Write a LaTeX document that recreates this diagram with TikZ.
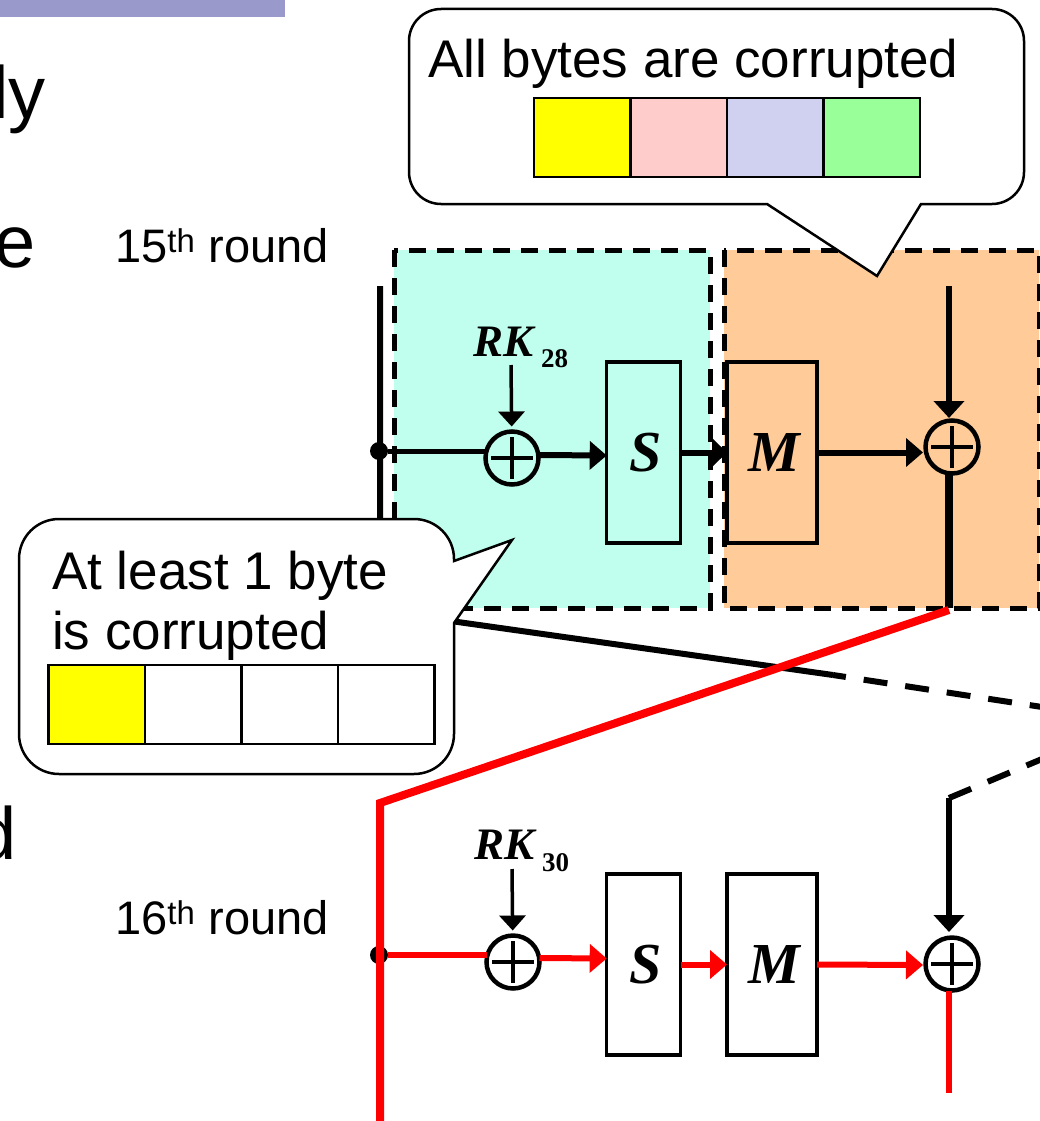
\documentclass[tikz,border=0pt]{standalone}
\usepackage{fontspec}
\setmainfont{Liberation Sans}
\newfontfamily\keyfont{Liberation Serif}
\usetikzlibrary{positioning,arrows.meta}
\definecolor{barblue}{HTML}{9999CC}
\definecolor{roundcyan}{HTML}{C0FFEE}
\definecolor{roundorange}{HTML}{FFCC99}
\definecolor{byteyellow}{HTML}{FFFF00}
\definecolor{bytepink}{HTML}{FFCCCC}
\definecolor{bytelav}{HTML}{D0D0F0}
\definecolor{bytegreen}{HTML}{99FF99}
\definecolor{linered}{HTML}{FF0000}
\tikzset{
	bigtxt/.style={inner sep=0,font=\fontsize{74}{80}\selectfont,anchor=base east},
	roundtxt/.style={inner sep=0,font=\fontsize{47}{50}\selectfont,anchor=base west},
	bubbletxt/.style={inner sep=0,font=\fontsize{53}{60}\selectfont,anchor=base west},
	keytxt/.style={inner sep=0,anchor=base west,font=\keyfont\bfseries\itshape\fontsize{45}{50}\selectfont},
	roundbox/.style={draw,line width=5pt,dash pattern=on 17pt off 11pt},
	funcbox/.style={draw,line width=3.5pt,inner sep=0,outer sep=0,minimum height=181pt,
		font=\keyfont\bfseries\itshape\fontsize{58}{60}\selectfont},
	xorgate/.style={draw,circle,line width=4.5pt,inner sep=0,outer sep=0,minimum size=53pt,
		path picture={\draw[line width=4pt] (-21,0) -- (21,0) (0,-21) -- (0,21);}},
	dotnode/.style={circle,fill=black,inner sep=0,outer sep=0,minimum size=18pt},
	bytecell/.style={draw,line width=2.5pt,inner sep=0,outer sep=0,minimum width=96.5pt,minimum height=79pt},
	bubble/.style={draw,fill=white,line width=2.5pt,line join=miter},
	flow/.style={-{Triangle[length=17pt,width=28pt]},line width=6pt},
	keyin/.style={-{Triangle[length=15pt,width=26pt]},line width=3.5pt,shorten >=5pt},
	wire/.style={line width=6pt},
	dashwire/.style={line width=6pt,dash pattern=on 24pt off 18pt},
}

\begin{document}
\begin{tikzpicture}[x=1pt,y=-1pt]
	\useasboundingbox (0,0) rectangle (1040,1121);
	\fill[barblue] (0,0) rectangle (285,17);
	\node[bigtxt] (t1) at (46,118) {ly};
	\node[bigtxt] (t2) at (36,267) {e};
	\node[bigtxt] (t3) at (17,859) {d};
	\node[roundtxt] (r15) at (115,262) {15\textsuperscript{th} round};
	\node[roundtxt] (r16) at (115,934) {16\textsuperscript{th} round};
	%% round boxes
	\draw[roundbox,fill=roundcyan] (394,250) rectangle (710,608);
	\draw[roundbox,fill=roundorange] (724,250) rectangle (1039,608);
	%% 15th round
	\node[dotnode] (d15) at (379,451) {};
	\node[xorgate] (xa15) at (512,458) {};
	\node[funcbox,minimum width=74pt] (s15) at (643.7,452.5) {\hspace{4pt}S};
	\node[funcbox,minimum width=90pt,right=46.3pt of s15] (m15) {\hspace{4pt}M};
	\node[xorgate] (xb15) at (952,447) {};
	\node[keytxt] (k15) at (473,356) {RK\hspace{8pt}\raisebox{-11pt}{\upshape\fontsize{27}{30}\selectfont 28}};
	\coordinate (ka15) at (511,365);
	\coordinate (in15) at (949,286);
	\coordinate (tip15) at (949,418);
	\coordinate (mid15) at (923,452.5);
	\coordinate (out15) at (949,608);
	%% 16th round
	\node[dotnode] (d16) at (379,955) {};
	\node[xorgate] (xa16) at (513,962) {};
	\node[funcbox,minimum width=74pt,below=331pt of s15] (s16) {\hspace{4pt}S};
	\node[funcbox,minimum width=90pt,right=46.3pt of s16] (m16) {\hspace{4pt}M};
	\node[xorgate] (xb16) at (952,964) {};
	\node[keytxt] (k16) at (474,859) {RK\hspace{8pt}\raisebox{-12pt}{\upshape\fontsize{27}{30}\selectfont 30}};
	\coordinate (ka16) at (512,869);
	\coordinate (in16) at (949,798);
	\coordinate (tip16) at (949,932);
	\coordinate (mid16) at (923,965);
	\coordinate (out16) at (949,1093);
	% black lines
	\coordinate (l1) at (380,286);
	\coordinate (l2) at (380,611);
	\coordinate (l3) at (833,675);
	\coordinate (l4) at (1042,707);
	\coordinate (l5) at (1042,759);
	\draw[wire] (l1) -- (l2) -- (l3);
	\draw[dashwire,dash phase=11pt] (l3) -- (l4);
	\draw[dashwire] (in16) -- (l5);
	\draw[wire,line width=5pt] (d15) -- (d15 -| xa15.west);
	\draw[flow] ([yshift=3pt]xa15.east) -- ([yshift=-3pt]s15.west);
	\draw[flow,-{Triangle[length=15pt,width=28pt]}] (s15.east) -- (m15.west);
	\draw[flow] (m15.east) -- (mid15);
	\draw[flow,-{Triangle[length=17pt,width=30pt]}] (in15) -- (tip15);
	\draw[line width=8pt] (xb15.south -| out15) -- (out15);
	\draw[keyin] (ka15) -- (xa15);
	\draw[keyin] (ka16) -- (xa16);
	\draw[flow,-{Triangle[length=17pt,width=30pt]}] (in16) -- (tip16);
	% red lines
	\coordinate (c1) at (949,610);
	\coordinate (c2) at (380,803);
	\coordinate (c3) at (380,1121);
	\draw[linered,line width=8pt] (c1) -- (c2) -- (c3);
	\draw[linered,wire] (d16) -- (d16 -| xa16.west);
	\draw[flow,linered] ([yshift=4pt]xa16.east) -- ([yshift=6pt]s16.west);
	\draw[flow,linered] (s16.east) -- (m16.west);
	\draw[flow,linered] (m16.east) -- (mid16);
	\draw[linered,wire] (xb16.south -| out16) -- (out16);
	%% upper bubble
	\draw[bubble] (921,204) [rounded corners=32pt] -- (1024,204) -- (1024,9) -- (409,9) -- (409,204) [sharp corners] -- (767,204) -- (877,276) -- cycle;
	\node[bubbletxt] (b1) at (428,77.5) {All bytes are corrupted};
	\node[bytecell,fill=byteyellow] (ua) at (582,137.5) {};
	\node[bytecell,fill=bytepink,right=0pt of ua] (ub) {};
	\node[bytecell,fill=bytelav,right=0pt of ub] (uc) {};
	\node[bytecell,fill=bytegreen,right=0pt of uc] (ud) {};
	%% lower bubble
	\draw[bubble] (454,561) [rounded corners=40pt] -- (454,519) -- (19,519) -- (19,774) -- (454,774) [sharp corners] -- (454,623) -- (512,540) -- cycle;
	\node[bubbletxt] (b2) at (52,589) {At least 1 byte};
	\node[bubbletxt] (b3) at (52,649) {is corrupted};
	\node[bytecell,fill=byteyellow] (la) at (96.5,704.5) {};
	\node[bytecell,right=0pt of la] (lb) {};
	\node[bytecell,right=0pt of lb] (lc) {};
	\node[bytecell,right=0pt of lc] (ld) {};
\end{tikzpicture}
\end{document}
